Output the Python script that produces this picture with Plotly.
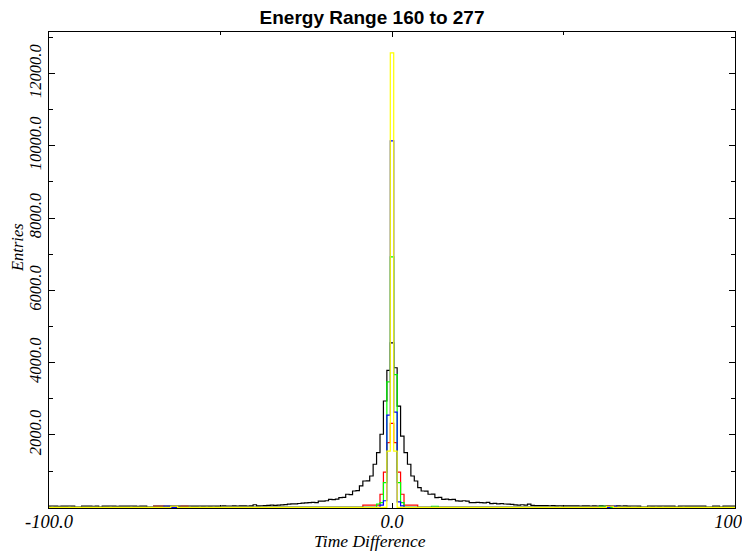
import plotly.graph_objects as go

# Bin centres of the time-difference histogram (1 unit wide bins)
time_bins = list(range(-100, 101))

# Total entries per bin, from -100 to +100
black_counts = [
    30, 35, 30, 28, 32, 30, 35, 30, 0, 0,          # -100 .. -91
    30, 32, 30, 28, 30, 0, 30, 32, 35, 30,         # -90 .. -81
    28, 30, 32, 30, 35, 30, 28, 30, 32, 0,         # -80 .. -71
    0, 30, 32, 30, 35, 32, 30, 35, 32, 30,         # -70 .. -61
    33, 35, 30, 32, 35, 33, 35, 32, 36, 34,        # -60 .. -51
    35, 38, 35, 36, 38, 35, 37, 40, 36, 38,        # -50 .. -41
    70, 40, 42, 45, 55, 58, 52, 62, 66, 72,        # -40 .. -31
    85, 95, 92, 105, 115, 122, 130, 136, 128, 172,  # -30 .. -21
    168, 180, 221, 214, 226, 268, 272, 360, 352, 450,  # -20 .. -11
    458, 590, 727, 732, 865, 1190, 1510, 2020, 2940, 3790,  # -10 .. -1
    4550,                                           # 0
    3860, 2800, 1970, 1510, 1190, 865, 727, 545, 450, 445,  # 1 .. 10
    360, 366, 268, 272, 221, 226, 214, 220, 175, 170,  # 11 .. 20
    181, 172, 130, 126, 137, 128, 121, 133, 102, 106,  # 21 .. 30
    96, 100, 90, 86, 80, 66, 60, 70, 62, 85,       # 31 .. 40
    50, 48, 45, 46, 44, 42, 45, 40, 42, 40,        # 41 .. 50
    38, 40, 37, 39, 36, 38, 40, 36, 38, 35,        # 51 .. 60
    37, 36, 38, 35, 36, 38, 35, 37, 34, 36,        # 61 .. 70
    35, 34, 0, 0, 35, 33, 36, 34, 35, 33,          # 71 .. 80
    34, 32, 0, 33, 35, 32, 34, 33, 32, 34,         # 81 .. 90
    33, 0, 0, 32, 34, 0, 32, 33, 30, 32,           # 91 .. 100
]

# Entries per bin for the four sub-selections (bins not listed are empty)
red_counts = {
    -69: 28, -68: 28, -67: 28, -61: 28, -60: 28,
    -8: 60, -7: 60, -6: 60, -5: 60, -4: 60,
    -3: 360, -2: 975, -1: 1790, 0: 2320, 1: 1790, 2: 975, 3: 360,
    4: 60, 5: 60, 6: 60, 7: 60,
    63: 28, 64: 28,
}
green_counts = {
    -4: 90, -3: 130, -2: 680, -1: 3470, 0: 6930, 1: 3670, 2: 680, 3: 130,
    12: 28, 13: 28, 61: 28, 62: 28,
}
blue_counts = {
    -66: 28, -65: 28,
    -3: 60, -2: 180, -1: 2550, 0: 10140, 1: 2630, 2: 150, 3: 40,
    64: 28, 65: 28,
}
yellow_counts = {
    -64: 28, -63: 28,
    -1: 1555, 0: 12570, 1: 1555,
    63: 28, 64: 28,
}

y_tick_vals = [2000, 4000, 6000, 8000, 10000, 12000]
y_tick_text = ["2000.0", "4000.0", "6000.0", "8000.0", "10000.0", "12000.0"]
y_minor_vals = [1000, 3000, 5000, 7000, 9000, 11000, 13000]
x_tick_vals = [-100, 0, 100]
x_tick_text = ["-100.0", "0.0", "100.0"]
x_minor_vals = [-50, 50]


def full_series(sparse):
    return [sparse.get(t, 0) for t in time_bins]


series = [
    ("all", black_counts, "#000000"),
    ("red", full_series(red_counts), "#ff0000"),
    ("green", full_series(green_counts), "#00ff00"),
    ("blue", full_series(blue_counts), "#0000ff"),
    ("yellow", full_series(yellow_counts), "#ffff00"),
]

fig = go.Figure()
for name, counts, colour in series:
    fig.add_trace(go.Scatter(
        x=time_bins, y=counts, name=name, mode="lines",
        line=dict(color=colour, width=1.2, shape="hvh"),
        showlegend=False, hoverinfo="skip",
    ))

serif = "Liberation Serif, Times New Roman, serif"

fig.update_layout(
    width=742, height=551,
    margin=dict(l=49, r=7, t=32, b=43, autoexpand=False),
    paper_bgcolor="white", plot_bgcolor="white",
    title=dict(
        text="<b>Energy Range 160 to 277</b>",
        x=372 / 742, xanchor="center", xref="container",
        y=1 - 17 / 551, yanchor="middle", yref="container",
        font=dict(family="Liberation Sans, Arial, sans-serif", size=19, color="black"),
    ),
    xaxis=dict(
        range=[-100, 100], showgrid=False, zeroline=False, automargin=False,
        showline=True, linecolor="black", linewidth=1, mirror="ticks",
        ticks="inside", ticklen=5, tickcolor="black", tickwidth=1,
        tickvals=x_tick_vals, ticktext=x_tick_text,
        ticklabeloverflow="allow", ticklabelstandoff=-3,
        tickfont=dict(family=serif, size=18.5, color="black", style="italic"),
        minor=dict(tickvals=x_minor_vals, ticks="inside", ticklen=3,
                   tickcolor="black", tickwidth=1, showgrid=False),
        layer="below traces",
    ),
    yaxis=dict(
        range=[-20, 13150], showgrid=False, zeroline=False, automargin=False,
        showline=True, linecolor="black", linewidth=1, mirror="ticks",
        ticks="inside", ticklen=6, tickcolor="black", tickwidth=1,
        tickvals=y_tick_vals, ticktext=y_tick_text, tickangle=-90,
        tickfont=dict(family=serif, size=16.5, color="black", style="italic"),
        minor=dict(tickvals=y_minor_vals, ticks="inside", ticklen=4,
                   tickcolor="black", tickwidth=1, showgrid=False),
        layer="below traces",
    ),
    annotations=[
        dict(text="Time Difference", xref="paper", yref="paper",
             x=(370 - 49) / 686, y=(508 - 541) / 476,
             xanchor="center", yanchor="middle", showarrow=False,
             font=dict(family=serif, size=17.5, color="black", style="italic")),
        dict(text="Entries", xref="paper", yref="paper",
             x=(17 - 49) / 686, y=(508 - 248) / 476, textangle=-90,
             xanchor="center", yanchor="middle", showarrow=False,
             font=dict(family=serif, size=16.5, color="black", style="italic")),
    ],
)

fig.write_html("out.html")
